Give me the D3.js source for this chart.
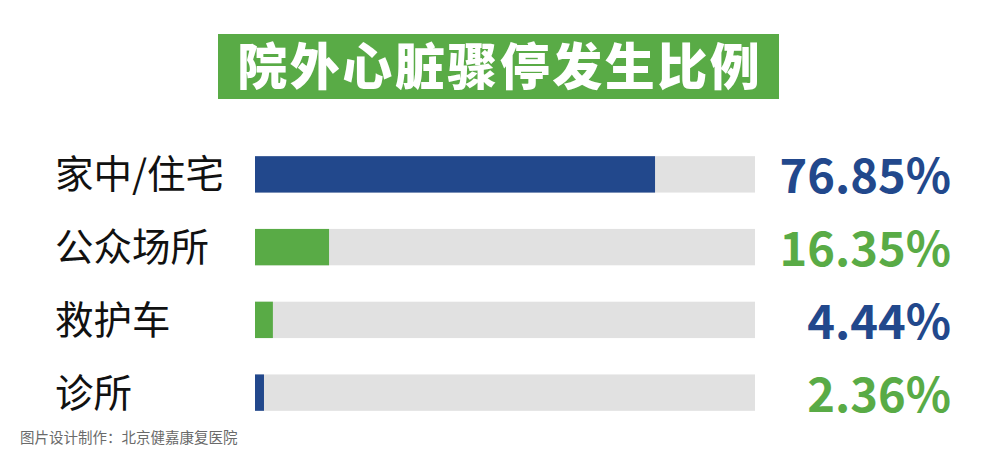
<!DOCTYPE html>
<html><head><meta charset="utf-8">
<script src="https://cdn.jsdelivr.net/npm/d3@7"></script>
<style>html,body{margin:0;padding:0;background:#fff;}svg{display:block;}</style>
</head><body>
<script>
const title = "院外心脏骤停发生比例";
const categories = ["家中/住宅", "公众场所", "救护车", "诊所"];
const values = [76.85, 16.35, 4.44, 2.36];
const valueLabels = ["76.85%", "16.35%", "4.44%", "2.36%"];
const barColorKeys = ["blue", "green", "green", "blue"];
const labelColorKeys = ["blue", "green", "blue", "green"];
const footer = "图片设计制作：北京健嘉康复医院";

const colors = {blue: "#22488c", green: "#59ab46", track: "#e1e1e1"};
const W = 1000, H = 458;
const svg = d3.select("body").append("svg").attr("width", W).attr("height", H);

// title
svg.append("rect").attr("x", 218).attr("y", 34).attr("width", 561).attr("height", 65).attr("fill", colors.green);
svg.append("text").attr("x", 498.5 + 1.25).attr("y", 85)
  .attr("text-anchor", "middle")
  .attr("font-family", "'Noto Sans CJK SC'").attr("font-weight", 900)
  .attr("font-size", 50).attr("letter-spacing", "2.5px")
  .attr("fill", "#fff").text(title);

const x = d3.scalePow().exponent(1.09).domain([0, 94.3]).range([255, 755]);
const y = d3.scaleBand().domain(categories).range([138, 429]).paddingInner(0.5).paddingOuter(0.25);

const rows = svg.selectAll("g.row").data(categories).join("g").attr("class", "row");
rows.append("rect").attr("x", x(0)).attr("y", d => y(d)).attr("width", x.range()[1] - x(0)).attr("height", y.bandwidth()).attr("fill", colors.track);
rows.append("rect").attr("x", x(0)).attr("y", d => y(d)).attr("width", (d, i) => x(values[i]) - x(0)).attr("height", y.bandwidth()).attr("fill", (d, i) => colors[barColorKeys[i]]);
rows.append("text").attr("x", 55).attr("y", d => y(d) + y.bandwidth() / 2 + 14)
  .attr("font-family", "'Noto Sans CJK SC'").attr("font-size", 38.5).attr("fill", "#111").text(d => d);
rows.append("text").attr("x", 951).attr("y", d => y(d) + y.bandwidth() / 2 + 19)
  .attr("text-anchor", "end")
  .attr("font-family", "'Noto Sans CJK SC'").attr("font-weight", 700).attr("font-size", 47)
  .attr("fill", (d, i) => colors[labelColorKeys[i]]).text((d, i) => valueLabels[i]);

svg.append("text").attr("x", 20).attr("y", 443).attr("font-family", "'Noto Sans CJK SC'").attr("font-size", 14.5).attr("fill", "#6a6a6a").text(footer);
</script>
</body></html>
